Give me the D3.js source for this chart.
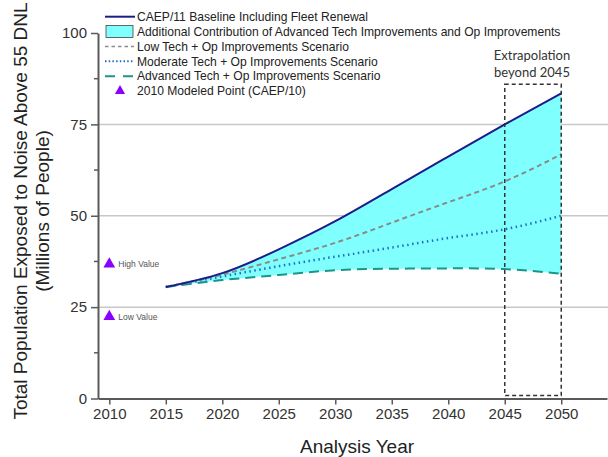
<!DOCTYPE html>
<html><head><meta charset="utf-8">
<script src="https://cdn.jsdelivr.net/npm/d3@7"></script>
<style>body{margin:0;background:#fff}svg{display:block}</style>
</head><body><svg id="c" width="608" height="457"></svg>
<script>
const years = [2015, 2020, 2025, 2030, 2035, 2040, 2045, 2050];
const baseline = [30.5, 34.3, 40.8, 48.5, 57.3, 66.2, 75.0, 83.5];
const lowTech = [30.5, 33.9, 38.1, 42.6, 48.1, 53.7, 59.4, 66.8];
const moderateTech = [30.5, 33.4, 36.2, 38.8, 41.3, 43.9, 46.3, 50.0];
const advancedTech = [30.5, 32.4, 33.8, 35.1, 35.5, 35.6, 35.4, 34.1];
const modeledYear = 2010;
const modeledPoints = [{label: "High Value", value: 36.8}, {label: "Low Value", value: 22.4}];
const xTicks = [2010, 2015, 2020, 2025, 2030, 2035, 2040, 2045, 2050];
const yTicks = [0, 25, 50, 75, 100];
const yMinorTicks = [12.5, 37.5, 62.5, 87.5];
const gridValues = [25, 50, 75];
const extrapBox = {x0: 2045, x1: 2050, y0: 0.8, y1: 86};
const legendLabels = [
  "CAEP/11 Baseline Including Fleet Renewal",
  "Additional Contribution of Advanced Tech Improvements and Op Improvements",
  "Low Tech + Op Improvements Scenario",
  "Moderate Tech + Op Improvements Scenario",
  "Advanced Tech + Op Improvements Scenario",
  "2010 Modeled Point (CAEP/10)"
];

const svg = d3.select("#c");
const x = d3.scaleLinear().domain([2009.0, 2054.05]).range([98, 607]);
const y = d3.scaleLinear().domain([0, 100]).range([398.5, 33]);
const font = "Liberation Sans, Arial, sans-serif";

// gridlines
svg.append("g").selectAll("line").data(gridValues).join("line")
  .attr("x1", x(2009.0)).attr("x2", 608).attr("y1", d => y(d)).attr("y2", d => y(d))
  .attr("stroke", "#c8c8c8").attr("stroke-width", 1.5);

const rows = years.map((yr, i) => ({yr, b: baseline[i], l: lowTech[i], m: moderateTech[i], a: advancedTech[i]}));
const curve = d3.curveNatural;

svg.append("path").datum(rows)
  .attr("d", d3.area().x(d => x(d.yr)).y0(d => y(d.a)).y1(d => y(d.b)).curve(curve))
  .attr("fill", "#80ffff");

const line = key => d3.line().x(d => x(d.yr)).y(d => y(d[key])).curve(curve);
svg.append("path").datum(rows).attr("d", line("a")).attr("fill", "none")
  .attr("stroke", "#1a9688").attr("stroke-width", 2).attr("stroke-dasharray", "10,6");
svg.append("path").datum(rows).attr("d", line("m")).attr("fill", "none")
  .attr("stroke", "#1f6fc4").attr("stroke-width", 2.5).attr("stroke-dasharray", "1.5,3.5").attr("stroke-linecap", "butt");
svg.append("path").datum(rows).attr("d", line("l")).attr("fill", "none")
  .attr("stroke", "#8a8a8a").attr("stroke-width", 2).attr("stroke-dasharray", "5,3.5");
svg.append("path").datum(rows).attr("d", line("b")).attr("fill", "none")
  .attr("stroke", "#1c1c8a").attr("stroke-width", 2);

// extrapolation box
svg.append("rect")
  .attr("x", x(extrapBox.x0)).attr("y", y(extrapBox.y1))
  .attr("width", x(extrapBox.x1) - x(extrapBox.x0)).attr("height", y(extrapBox.y0) - y(extrapBox.y1))
  .attr("fill", "none").attr("stroke", "#333").attr("stroke-width", 1.5).attr("stroke-dasharray", "4,3");
const ex = svg.append("text").attr("x", x(2047.5)).attr("text-anchor", "middle")
  .attr("font-family", "Lato, Carlito, Calibri, sans-serif").attr("font-size", 13).attr("fill", "#333");
ex.append("tspan").attr("x", x(2047.5) - 1).attr("y", 60).text("Extrapolation");
ex.append("tspan").attr("x", x(2047.5) - 1).attr("y", 76.5).text("beyond 2045");

// axes
const axisColor = "#5a5a5a";
const xAxis = svg.append("g").attr("transform", `translate(0,${y(0)})`)
  .call(d3.axisBottom(x).tickValues(xTicks).tickFormat(d3.format("d")).tickSize(6).tickSizeOuter(0));
xAxis.select(".domain").attr("stroke", axisColor).attr("stroke-width", 2);
xAxis.selectAll(".tick line").attr("stroke", axisColor).attr("stroke-width", 1.5);
xAxis.selectAll(".tick text").attr("font-family", font).attr("font-size", 15).attr("fill", "#333").attr("dy", "0.75em");

const yAxis = svg.append("g").attr("transform", `translate(${x(2009.0)},0)`)
  .call(d3.axisLeft(y).tickValues(yTicks).tickSize(7).tickSizeOuter(0).tickPadding(4));
yAxis.select(".domain").attr("stroke", axisColor).attr("stroke-width", 2);
yAxis.selectAll(".tick line").attr("stroke", axisColor).attr("stroke-width", 1.5);
yAxis.selectAll(".tick text").attr("font-family", font).attr("font-size", 15).attr("fill", "#333");
svg.append("g").selectAll("line").data(yMinorTicks).join("line")
  .attr("x1", x(2009.0) - 4).attr("x2", x(2009.0)).attr("y1", d => y(d)).attr("y2", d => y(d))
  .attr("stroke", axisColor).attr("stroke-width", 1.5);

// axis titles
svg.append("text").attr("x", 357).attr("y", 453).attr("text-anchor", "middle")
  .attr("font-family", font).attr("font-size", 19).attr("fill", "#222").text("Analysis Year");
const yt = svg.append("text").attr("transform", "translate(0,211) rotate(-90)").attr("text-anchor", "middle")
  .attr("font-family", font).attr("font-size", 19).attr("fill", "#222");
yt.append("tspan").attr("x", 0).attr("y", 27).text("Total Population Exposed to Noise Above 55 DNL");
yt.append("tspan").attr("x", 0).attr("y", 49).text("(Millions of People)");

// modeled points
const tri = d3.symbol().type(d3.symbolTriangle).size(60);
const mp = svg.append("g").selectAll("g").data(modeledPoints).join("g")
  .attr("transform", d => `translate(${x(modeledYear)},${y(d.value)})`);
mp.append("path").attr("d", tri).attr("fill", "#8a00ff");
mp.append("text").attr("x", 9).attr("y", 3).attr("font-family", font).attr("font-size", 8.5)
  .attr("fill", "#555").text(d => d.label);

// legend
const lg = svg.append("g");
const ly = i => 16.7 + i * 14.86;
lg.selectAll("text").data(legendLabels).join("text")
  .attr("x", 137).attr("y", (d, i) => ly(i) + 4.3).attr("font-family", font).attr("font-size", 12.1)
  .attr("fill", "#222").text(d => d);
lg.append("line").attr("x1", 105).attr("x2", 135).attr("y1", ly(0)).attr("y2", ly(0))
  .attr("stroke", "#1c1c8a").attr("stroke-width", 2);
lg.append("rect").attr("x", 106).attr("y", ly(1) - 6).attr("width", 27).attr("height", 12)
  .attr("fill", "#80ffff").attr("stroke", "#444").attr("stroke-width", 0.8);
lg.append("line").attr("x1", 105).attr("x2", 134).attr("y1", ly(2)).attr("y2", ly(2))
  .attr("stroke", "#8a8a8a").attr("stroke-width", 1.5).attr("stroke-dasharray", "3.5,3");
lg.append("line").attr("x1", 105).attr("x2", 134).attr("y1", ly(3)).attr("y2", ly(3))
  .attr("stroke", "#1f6fc4").attr("stroke-width", 2).attr("stroke-dasharray", "1.5,2.2");
lg.append("line").attr("x1", 105).attr("x2", 134).attr("y1", ly(4)).attr("y2", ly(4))
  .attr("stroke", "#1a9688").attr("stroke-width", 2).attr("stroke-dasharray", "10,8");
lg.append("path").attr("d", d3.symbol().type(d3.symbolTriangle).size(45))
  .attr("transform", `translate(120,${ly(5)})`).attr("fill", "#8a00ff");
</script></body></html>
